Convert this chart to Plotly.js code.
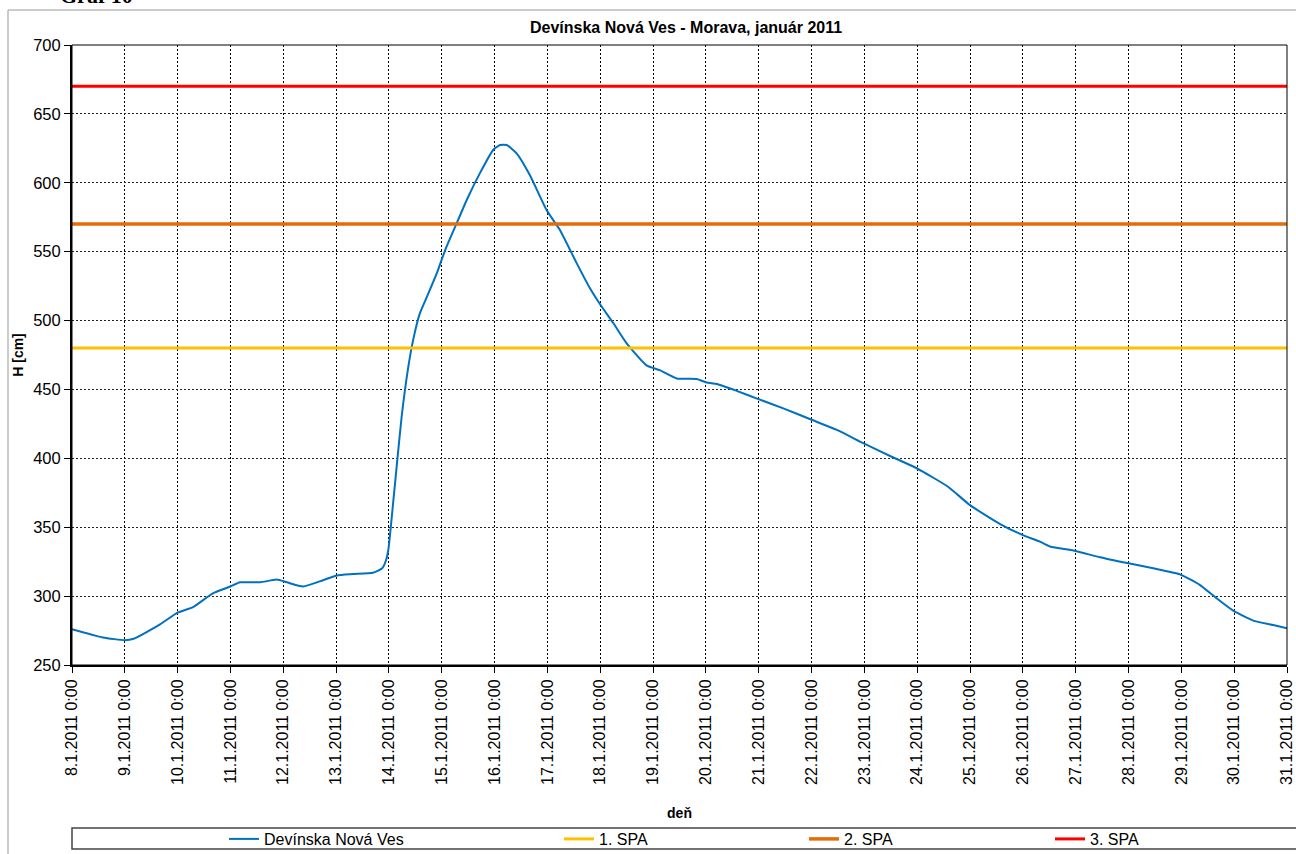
<!DOCTYPE html>
<html>
<head>
<meta charset="utf-8">
<script src="https://cdn.plot.ly/plotly-3.0.1.min.js"></script>
<style>
  html, body { margin: 0; padding: 0; background: #fff; overflow: hidden; }
  #wrap { position: relative; width: 1296px; height: 854px; overflow: hidden; }
  #chart { position: absolute; left: 0; top: 0; width: 1296px; height: 854px; z-index: 1; }
  #graf { position: absolute; left: 60px; top: -14px; line-height: 20px; font-family: "Liberation Serif", serif; font-weight: bold; font-size: 22px; color: #000; z-index: 5; }
</style>
</head>
<body>
<div id="wrap">
  <div id="chart"></div>
  <div id="graf">Graf 10</div>
</div>
<script>
// ---- data ----
const stationName = "Devínska Nová Ves";
const times = [
  "2011-01-08 00:00","2011-01-08 14:00","2011-01-09 00:00","2011-01-09 04:00","2011-01-09 16:00",
  "2011-01-10 00:00","2011-01-10 07:00","2011-01-10 16:00","2011-01-11 00:00","2011-01-11 04:20",
  "2011-01-11 13:30","2011-01-11 21:00","2011-01-12 01:40","2011-01-12 09:00","2011-01-12 18:00",
  "2011-01-13 00:20","2011-01-13 07:40","2011-01-13 16:40","2011-01-13 20:50","2011-01-13 22:40",
  "2011-01-13 23:45","2011-01-14 01:15","2011-01-14 03:30","2011-01-14 05:45","2011-01-14 08:45",
  "2011-01-14 11:00","2011-01-14 14:00","2011-01-14 17:10","2011-01-14 21:40","2011-01-15 01:30",
  "2011-01-15 06:45","2011-01-15 11:20","2011-01-15 17:20","2011-01-15 23:25","2011-01-16 02:30",
  "2011-01-16 05:30","2011-01-16 10:00","2011-01-16 16:00","2011-01-16 23:40","2011-01-17 05:40",
  "2011-01-17 13:20","2011-01-17 19:20","2011-01-17 23:50","2011-01-18 06:00","2011-01-18 12:00",
  "2011-01-18 21:00","2011-01-19 03:00","2011-01-19 10:45","2011-01-19 19:50","2011-01-20 00:20",
  "2011-01-20 05:00","2011-01-20 14:00","2011-01-20 23:50","2011-01-21 11:10","2011-01-22 00:00",
  "2011-01-22 11:30","2011-01-22 23:30","2011-01-23 11:40","2011-01-23 23:45","2011-01-24 14:00",
  "2011-01-25 00:00","2011-01-25 13:40","2011-01-26 00:00","2011-01-26 07:45","2011-01-26 12:20",
  "2011-01-27 00:00","2011-01-27 11:00","2011-01-28 00:00","2011-01-28 11:15","2011-01-28 23:20",
  "2011-01-29 08:30","2011-01-29 16:00","2011-01-29 23:35","2011-01-30 08:40","2011-01-30 17:45",
  "2011-01-31 00:00"
];
const levels = [
  276, 270, 268, 269, 279.5,
  288, 292, 302, 307, 310,
  310, 312, 310, 307, 311.5,
  315, 316, 317, 320, 326,
  334, 357, 394, 430, 466,
  486, 505, 517, 534, 551,
  570.5, 587.5, 607, 624, 627.4,
  627.4, 621.4, 605.6, 580, 565.7,
  541.5, 523.4, 512, 498, 483.5,
  467.5, 464, 458, 457.6, 455,
  454, 449, 443, 436.3, 428,
  420.6, 411, 401.7, 392.8, 379.4,
  366, 352.3, 344.3, 339.5, 336,
  332.7, 328.2, 323.8, 320.2, 315.8,
  308, 298.4, 289.4, 282.2, 279,
  276.6
];
const spaNames = ["1. SPA", "2. SPA", "3. SPA"];
const spaLevels = [480, 570, 670];
const spaColors = ["#FFC000", "#E46C0A", "#FF0000"];
const spaWidths = [3, 3.5, 3];
const xStart = "2011-01-08 00:00";
const xEnd = "2011-01-31 00:00";
const chartTitle = "Devínska Nová Ves - Morava, január 2011";
const xTitle = "deň";
const yTitle = "H [cm]";

// ---- traces ----
const traces = [{
  type: "scatter", mode: "lines", name: stationName,
  x: times, y: levels,
  line: { color: "#0070C0", width: 2, shape: "spline", smoothing: 0.5 },
  legend: "legend"
}];
spaNames.forEach((n, i) => {
  traces.push({
    type: "scatter", mode: "lines", name: n,
    x: [xStart, xEnd], y: [spaLevels[i], spaLevels[i]],
    line: { color: spaColors[i], width: spaWidths[i] },
    legend: "legend" + (i + 2)
  });
});

const F = "Liberation Sans, Arial, sans-serif";
const plotL = 72, plotR = 1287, plotT = 45, plotB = 665;
const pw = plotR - plotL, ph = plotB - plotT;
const px2x = p => (p - plotL) / pw;
const py2y = p => (plotB - p) / ph;

const legendStarts = [230, 565, 810, 1056];
const legBase = { orientation: "h", xanchor: "left", yanchor: "middle",
  y: py2y(839), bgcolor: "rgba(0,0,0,0)", borderwidth: 0,
  font: { family: F, size: 16, color: "#000" } };

const layout = {
  width: 1296, height: 854,
  margin: { l: plotL, r: 1296 - plotR, t: plotT, b: 854 - plotB, autoexpand: false },
  paper_bgcolor: "rgba(0,0,0,0)", plot_bgcolor: "#fff",
  font: { family: F, color: "#000", size: 16 },
  title: { text: chartTitle, x: 655 / 1296, xref: "paper", xanchor: "center",
           y: 1 - 27 / 854, yanchor: "middle", yref: "container",
           font: { family: F, size: 16, weight: 700, color: "#000" } },
  xaxis: {
    type: "date", range: [xStart, xEnd],
    tick0: xStart, dtick: 86400000,
    tickformat: "%-d.%-m.%Y %-H:%M", tickangle: -90,
    ticks: "outside", ticklen: 6, tickwidth: 1, tickcolor: "#000",
    showline: true, linecolor: "#000", linewidth: 2,
    showgrid: true, gridcolor: "#000", gridwidth: 1, griddash: "2px,2px",
    zeroline: false, automargin: false,
    tickfont: { family: F, size: 16, color: "#000" },
    title: { text: xTitle, standoff: 24, font: { family: F, size: 14, weight: 700, color: "#000" } }
  },
  yaxis: {
    range: [250, 700], dtick: 50, tick0: 250,
    ticks: "outside", ticklen: 6, tickwidth: 1, tickcolor: "#000",
    showline: true, linecolor: "#000", linewidth: 2,
    showgrid: true, gridcolor: "#222", gridwidth: 1, griddash: "2px,2px",
    zeroline: false, automargin: false,
    tickfont: { family: F, size: 16.5, color: "#000" },
    title: { text: yTitle, standoff: 6, font: { family: F, size: 14, weight: 700, color: "#000" } }
  },
  legend: Object.assign({}, legBase, { x: px2x(legendStarts[0] - 6) }),
  legend2: Object.assign({}, legBase, { x: px2x(legendStarts[1] - 6) }),
  legend3: Object.assign({}, legBase, { x: px2x(legendStarts[2] - 6) }),
  legend4: Object.assign({}, legBase, { x: px2x(legendStarts[3] - 6) }),
  shapes: [
    { type: "rect", xref: "paper", yref: "paper", x0: 0, x1: 1, y0: 0, y1: 1,
      line: { color: "#000", width: 1 }, layer: "above" },
    { type: "rect", xref: "paper", yref: "paper", x0: 0, x1: px2x(1310), y0: py2y(828), y1: py2y(849),
      line: { color: "#444", width: 1.5 }, fillcolor: "rgba(0,0,0,0)" },
    { type: "rect", xref: "paper", yref: "paper", x0: px2x(8), x1: px2x(1320), y0: py2y(10), y1: py2y(880),
      line: { color: "#999", width: 1 }, fillcolor: "rgba(0,0,0,0)" }
  ],
  showlegend: true,
  hovermode: false
};

Plotly.newPlot("chart", traces, layout, { staticPlot: true, displayModeBar: false });
</script>
</body>
</html>
